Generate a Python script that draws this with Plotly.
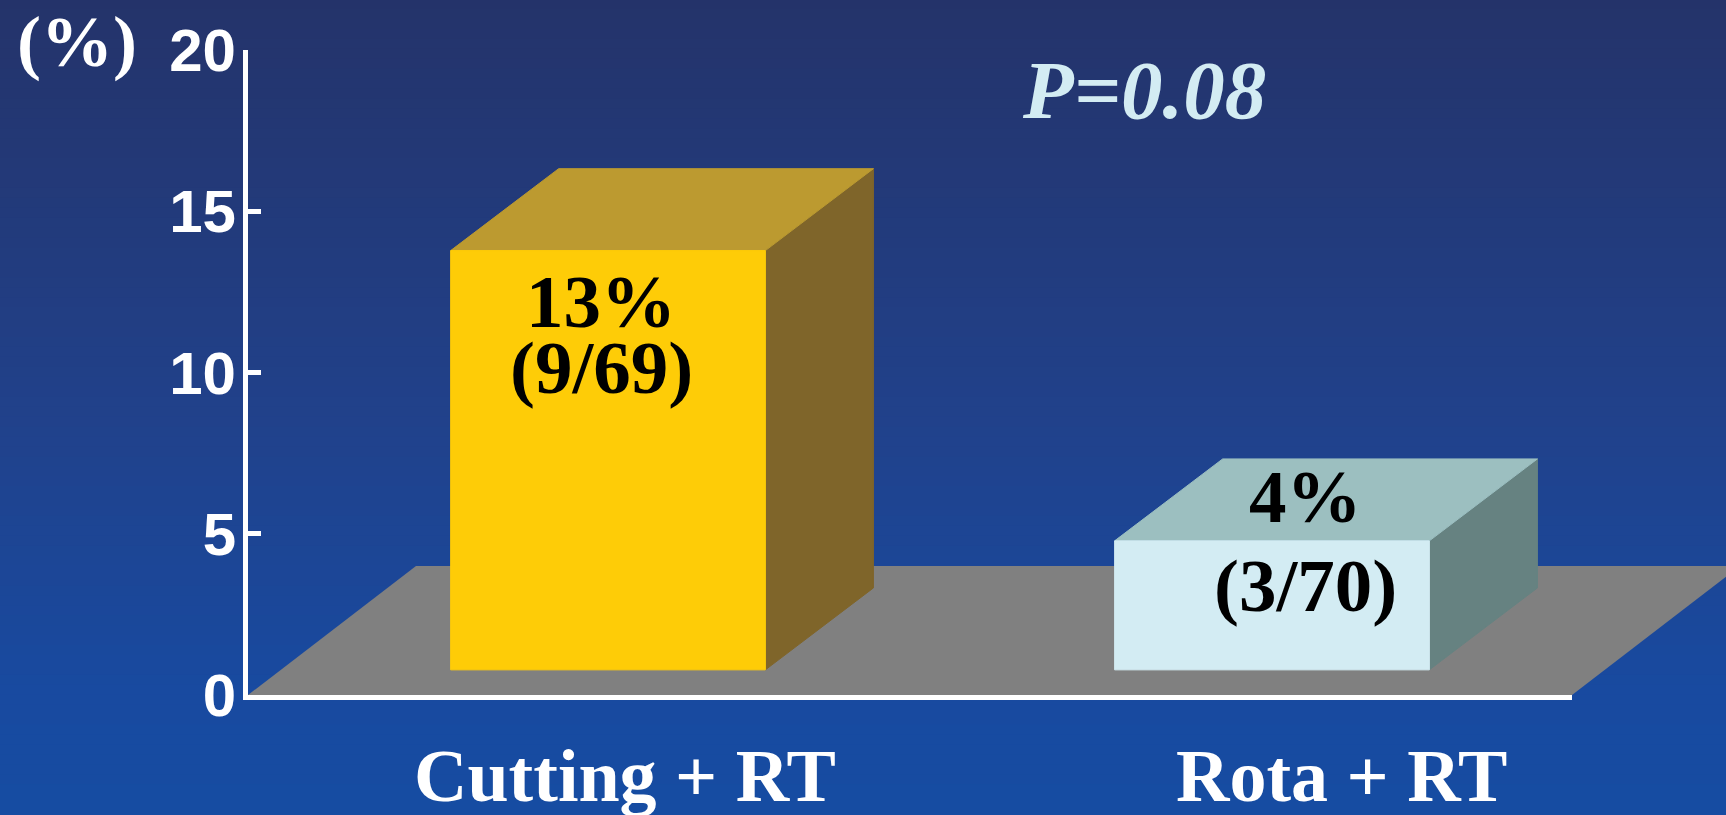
import plotly.graph_objects as go

# ---- data ----
categories = ["Cutting + RT", "Rota + RT"]
rates = [13, 4]          # event rate, %
events = [9, 3]
totals = [69, 70]
y_ticks = [0, 5, 10, 15, 20]
p_value = "0.08"

# ---- geometry / style ----
W, H = 1726, 815
M = dict(l=248, r=154, t=50, b=120)
X_RANGE = [-0.5422, 1.4518]
Y_RANGE = [0, 20]

BAR_W = 0.474      # width of the front face (x units)
DX = 0.1627        # depth offset of the 3-D block (x units)
DY = 2.54          # depth offset of the 3-D block (y units)
BASE = 0.78        # blocks stand on the floor slightly above the axis

FRONT = ["#FECC07", "#D3ECF3"]
TOP = ["#BC9A30", "#9CBFC0"]
SIDE = ["#7F652A", "#668281"]

SERIF = "Liberation Serif, Times New Roman, serif"
SANS = "Liberation Sans, Arial, sans-serif"

PW = W - M["l"] - M["r"]
PH = H - M["t"] - M["b"]


def px_x(px):
    return (px - M["l"]) / PW


def px_y(py):
    return (H - M["b"] - py) / PH


def poly(xs, ys, color):
    return go.Scatter(
        x=xs + [xs[0]], y=ys + [ys[0]], mode="lines", fill="toself",
        fillcolor=color, line=dict(width=1, color=color),
        hoverinfo="skip", showlegend=False,
    )


fig = go.Figure()

# 3-D blocks: side, top, then front face
for i, v in enumerate(rates):
    x0, x1 = i - BAR_W / 2, i + BAR_W / 2
    y0, y1 = BASE, BASE + v
    fig.add_trace(poly([x1, x1 + DX, x1 + DX, x1], [y0, y0 + DY, y1 + DY, y1], SIDE[i]))
    fig.add_trace(poly([x0, x0 + DX, x1 + DX, x1], [y1, y1 + DY, y1 + DY, y1], TOP[i]))
    fig.add_trace(poly([x0, x1, x1, x0], [y0, y0, y1, y1], FRONT[i]))

# background gradient (navy to blue)
stops = [(0.0, (36, 51, 106)), (0.5, (33, 65, 138)), (0.85, (24, 74, 160)), (1.0, (22, 76, 162))]


def grad(t):
    for (t0, c0), (t1, c1) in zip(stops[:-1], stops[1:]):
        if t <= t1:
            f = (t - t0) / (t1 - t0)
            return tuple(round(a + (b - a) * f) for a, b in zip(c0, c1))
    return stops[-1][1]


shapes = []
n = 82
step = H / n
for k in range(n):
    top_px = k * step
    c = grad((k + 0.5) / n)
    shapes.append(dict(
        type="rect", xref="paper", yref="paper", layer="below",
        x0=px_x(-5), x1=px_x(W + 5), y0=px_y(top_px + step + 1), y1=px_y(top_px - 1),
        fillcolor="rgb(%d,%d,%d)" % c, line=dict(width=0),
    ))

# grey floor
path = "M " + " L ".join("%f,%f" % (px_x(a), px_y(b))
                         for a, b in [(248, 695), (416, 566), (1740, 566), (1572, 695)]) + " Z"
shapes.append(dict(type="path", xref="paper", yref="paper", layer="below", path=path,
                   fillcolor="#808080", line=dict(width=0)))

annotations = []
label_font = dict(family=SERIF, size=75, color="black", weight="bold")
label_pos = [((-0.01, 12.2), (-0.01, 10.15)), ((1.05, 6.14), (1.05, 3.4))]
for i, (v, e, t) in enumerate(zip(rates, events, totals)):
    (ax1, ay1), (ax2, ay2) = label_pos[i]
    annotations.append(dict(x=ax1, y=ay1, xref="x", yref="y", text=f"{v}%", showarrow=False,
                            font=label_font, xanchor="center", yanchor="middle"))
    annotations.append(dict(x=ax2, y=ay2, xref="x", yref="y", text=f"({e}/{t})", showarrow=False,
                            font=label_font, xanchor="center", yanchor="middle"))

# category names under the floor
cat_x = [0.0256, 1.105]
for cx, name in zip(cat_x, categories):
    annotations.append(dict(x=cx, y=px_y(776), xref="x", yref="paper", text=name, showarrow=False,
                            font=dict(family=SERIF, size=74, color="white", weight="bold"),
                            xanchor="center", yanchor="middle"))

annotations.append(dict(x=px_x(77), y=px_y(42), xref="paper", yref="paper", text="(%)", showarrow=False,
                        font=dict(family=SERIF, size=72, color="white", weight="bold"),
                        xanchor="center", yanchor="middle"))
annotations.append(dict(x=px_x(1144), y=px_y(90), xref="paper", yref="paper",
                        text=f"<i>P</i><i>={p_value}</i>", showarrow=False,
                        font=dict(family=SERIF, size=83, color="#D3ECF3", weight="bold"),
                        xanchor="center", yanchor="middle"))

fig.update_layout(
    width=W, height=H, margin=M,
    paper_bgcolor="rgb(22,76,162)", plot_bgcolor="rgba(0,0,0,0)",
    shapes=shapes, annotations=annotations, showlegend=False,
    xaxis=dict(range=X_RANGE, showline=True, linewidth=5, linecolor="white",
               showgrid=False, zeroline=False, showticklabels=False, ticks=""),
    yaxis=dict(range=Y_RANGE, showline=True, linewidth=5, linecolor="white",
               showgrid=False, zeroline=False, tickvals=y_ticks, ticks="inside",
               ticklen=13, tickwidth=5, tickcolor="white", ticklabelstandoff=-5,
               tickfont=dict(family=SANS, size=60, color="white", weight="bold")),
)

fig.write_html("out.html")
